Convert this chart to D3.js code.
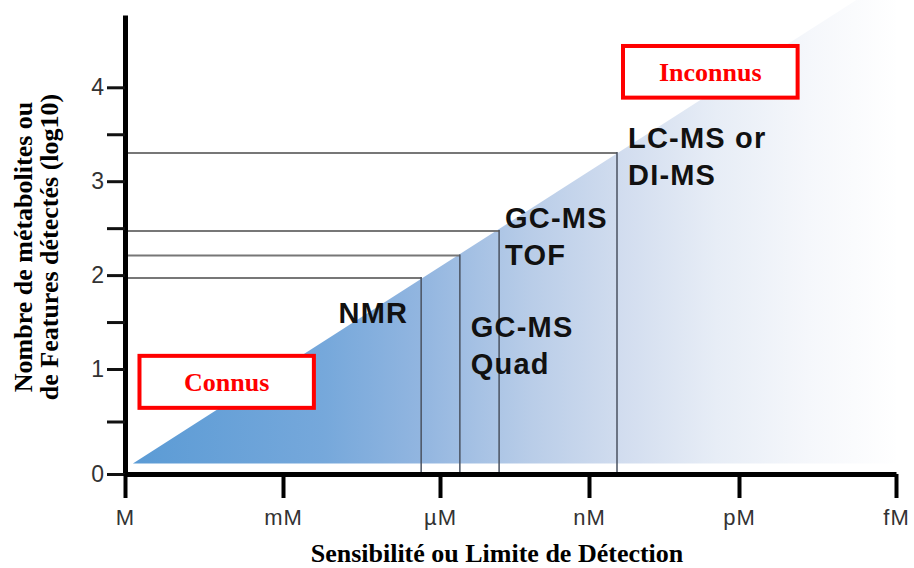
<!DOCTYPE html>
<html>
<head>
<meta charset="utf-8">
<script src="https://cdn.jsdelivr.net/npm/d3@7"></script>
<style>
  body { margin: 0; background: #fff; }
  svg { display: block; }
</style>
</head>
<body>
<div id="chart"></div>
<script type="text/javascript">
  // data: x = -log10(concentration), y = log10(nombre de features)
  const concLabels = ['M', 'mM', '\u00b5M', 'nM', 'pM', 'fM'],
    concValues = [0, 3, 6, 9, 12, 15];

  const yTicks = [0, 0.5, 1, 1.5, 2, 2.5, 3, 3.5, 4];

  const instruments = ['NMR', 'GC-MS Quad', 'GC-MS TOF', 'LC-MS or DI-MS'],
    instrLines = [['NMR'], ['GC-MS', 'Quad'], ['GC-MS', 'TOF'], ['LC-MS or', 'DI-MS']],
    instrSensitivity = [5.64, 6.40, 7.19, 9.56],
    instrFeatures = [1.97, 2.21, 2.47, 3.30];

  // triangle (coverage) corners, in data units
  const coverage = [[0.15, 0.1], [15, 5.2], [15, 0.1]];

  const annotations = ['Connus', 'Inconnus'],
    annotX = [[0.275, 3.59], [9.68, 13.12]],
    annotY = [[0.63, 1.14], [3.89, 4.44]];

  const width = 914,
    height = 568;

  // the original figure is not perfectly evenly spaced, so scales are polylinear
  const x = d3.scaleLinear()
    .domain(concValues)
    .range([125, 283, 440, 589, 739, 896]);

  const y = d3.scaleLinear()
    .domain([0, 1, 4.77])
    .range([474, 369, 15]);

  const svg = d3.select('#chart').append('svg')
    .attr('width', width)
    .attr('height', height);

  // gradient for the triangle
  const grad = svg.append('defs').append('linearGradient')
    .attr('id', 'fade')
    .attr('gradientUnits', 'userSpaceOnUse')
    .attr('x1', x(0.15)).attr('x2', 900)
    .attr('y1', 0).attr('y2', 0);
  [[0, '#5b9bd5'], [0.25, '#76a8db'], [0.38, '#93b6e0'], [0.52, '#b9cde8'],
   [0.64, '#d2ddef'], [0.76, '#e7edf6'], [0.88, '#f5f7fb'], [1, '#ffffff']]
    .forEach(function(s) {
      grad.append('stop').attr('offset', s[0]).attr('stop-color', s[1]);
    });

  svg.append('path')
    .attr('d', d3.line().x(function(d) { return x(d[0]); }).y(function(d) { return y(d[1]); })(coverage) + 'Z')
    .style('fill', 'url(#fade)');

  // reference lines for each instrument
  const ref = svg.append('g');
  ref.selectAll('line.h')
    .data(instruments)
    .enter().append('line')
      .attr('class', 'h')
      .attr('x1', x(0) + 3)
      .attr('x2', function(d, i) { return x(instrSensitivity[i]); })
      .attr('y1', function(d, i) { return y(instrFeatures[i]); })
      .attr('y2', function(d, i) { return y(instrFeatures[i]); })
      .style('stroke', '#777')
      .style('stroke-width', '2px');

  ref.selectAll('line.v')
    .data(instruments)
    .enter().append('line')
      .attr('class', 'v')
      .attr('x1', function(d, i) { return x(instrSensitivity[i]); })
      .attr('x2', function(d, i) { return x(instrSensitivity[i]); })
      .attr('y1', function(d, i) { return y(instrFeatures[i]) - 1; })
      .attr('y2', y(0))
      .style('stroke', '#4a5260')
      .style('stroke-width', '1.5px');

  // instrument labels, offsets relative to the top of each line
  const labelOffsets = [
    { dx: -13, dy: 45, anchor: 'end' },
    { dx: 11, dy: 82, anchor: 'start' },
    { dx: 6, dy: -3, anchor: 'start' },
    { dx: 11, dy: -5, anchor: 'start' }
  ];

  instruments.forEach(function(name, i) {
    const o = labelOffsets[i];
    const t = svg.append('text')
      .attr('x', x(instrSensitivity[i]) + o.dx)
      .attr('y', y(instrFeatures[i]) + o.dy)
      .attr('text-anchor', o.anchor)
      .style('font-family', 'Liberation Sans, Arial, sans-serif')
      .style('font-weight', 'bold')
      .style('font-size', '29px')
      .style('letter-spacing', '1.2px')
      .style('fill', '#111');
    instrLines[i].forEach(function(line, j) {
      t.append('tspan')
        .attr('x', x(instrSensitivity[i]) + o.dx)
        .attr('dy', j === 0 ? 0 : 37)
        .text(line);
    });
  });

  // axes
  const yAxis = svg.append('g')
    .attr('transform', 'translate(' + x(0) + ',0)')
    .call(d3.axisLeft(y)
      .tickValues(yTicks)
      .tickFormat(function(d) { return Number.isInteger(d) ? d : ''; })
      .tickSize(18)
      .tickSizeOuter(0)
      .tickPadding(3));
  yAxis.select('.domain').style('stroke', '#000').style('stroke-width', '5px');
  yAxis.selectAll('.tick line').style('stroke', '#111').style('stroke-width', '3px');
  yAxis.selectAll('.tick text')
    .style('font-family', 'Liberation Sans, Arial, sans-serif')
    .style('font-size', '23px')
    .style('fill', '#333');

  const xAxis = svg.append('g')
    .attr('transform', 'translate(0,' + y(0) + ')')
    .call(d3.axisBottom(x)
      .tickValues(concValues)
      .tickFormat(function(d, i) { return concLabels[i]; })
      .tickSize(24)
      .tickSizeOuter(0)
      .tickPadding(11));
  xAxis.select('.domain').style('stroke', '#000').style('stroke-width', '5px');
  xAxis.selectAll('.tick line').style('stroke', '#000').style('stroke-width', '4px');
  xAxis.selectAll('.tick text')
    .style('font-family', 'Liberation Sans, Arial, sans-serif')
    .style('font-size', '22px')
    .style('letter-spacing', '1px')
    .style('fill', '#333');

  // axis titles
  const yTitle = svg.append('text')
    .attr('transform', 'translate(0,247) rotate(-90)')
    .attr('text-anchor', 'middle')
    .style('font-family', 'Liberation Serif, Times New Roman, serif')
    .style('font-weight', 'bold')
    .style('font-size', '26px')
    .style('fill', '#000');
  yTitle.append('tspan').attr('x', 0).attr('y', 32).text('Nombre de métabolites ou');
  yTitle.append('tspan').attr('x', 0).attr('y', 58).text('de Features détectés (log10)');

  svg.append('text')
    .attr('x', 497)
    .attr('y', 562)
    .attr('text-anchor', 'middle')
    .style('font-family', 'Liberation Serif, Times New Roman, serif')
    .style('font-weight', 'bold')
    .style('font-size', '26px')
    .style('fill', '#000')
    .text('Sensibilité ou Limite de Détection');

  // red boxes
  const boxes = svg.selectAll('g.annot')
    .data(annotations)
    .enter().append('g')
      .attr('class', 'annot');

  boxes.append('rect')
    .attr('x', function(d, i) { return x(annotX[i][0]); })
    .attr('y', function(d, i) { return y(annotY[i][1]); })
    .attr('width', function(d, i) { return x(annotX[i][1]) - x(annotX[i][0]); })
    .attr('height', function(d, i) { return y(annotY[i][0]) - y(annotY[i][1]); })
    .style('fill', '#fff')
    .style('stroke', '#ff0000')
    .style('stroke-width', '4px');

  boxes.append('text')
    .attr('x', function(d, i) { return (x(annotX[i][0]) + x(annotX[i][1])) / 2; })
    .attr('y', function(d, i) { return (y(annotY[i][0]) + y(annotY[i][1])) / 2 + 9.5; })
    .attr('text-anchor', 'middle')
    .style('font-family', 'Liberation Serif, Times New Roman, serif')
    .style('font-weight', 'bold')
    .style('font-size', '26px')
    .style('fill', '#ff0000')
    .text(function(d) { return d; });
</script>
</body>
</html>
